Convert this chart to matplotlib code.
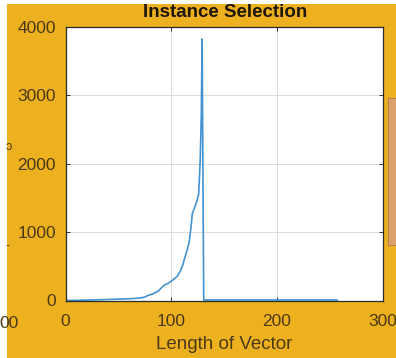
import matplotlib
matplotlib.use("Agg")
import matplotlib.pyplot as plt
from matplotlib.patches import Rectangle

# values
length_vec = [0, 10, 20, 30, 40, 50, 60, 70, 75, 78, 83, 88, 93, 97, 101, 104,
              106, 109, 111, 113, 115, 117, 119, 120, 122, 124, 126, 127.5,
              128.5, 129.3, 130.8, 140, 160, 180, 200, 220, 240, 257]
counts = [0, 3, 6, 10, 15, 20, 25, 35, 50, 73, 98, 140, 220, 250, 293, 330,
          360, 440, 520, 630, 730, 850, 1100, 1270, 1350, 1440, 1550, 2050,
          2700, 3820, 8, 8, 8, 8, 8, 8, 8, 8]
xticks = [0, 100, 200, 300]
yticks = [0, 1000, 2000, 3000, 4000]

bg = '#EDB120'
txt = '#4a3a15'
font = 'Liberation Sans'

fig = plt.figure(figsize=(3.96, 3.58), dpi=100, facecolor='white')

# orange figure background (screenshot is cropped, thin white strips left/top)
fig.patches.append(Rectangle((7 / 396, 0), 1, (358 - 4) / 358, transform=fig.transFigure,
                             facecolor=bg, edgecolor='none', zorder=-10))
# piece of neighbouring legend box at the right edge
fig.patches.append(Rectangle((388 / 396, (358 - 245) / 358), 0.05, 147 / 358,
                             transform=fig.transFigure, facecolor='#DDA26C',
                             edgecolor='#b5824a', linewidth=0.8, zorder=-5))

ax = fig.add_axes([65.5 / 396, (358 - 300.5) / 358, 317 / 396, 273.8 / 358])
ax.set_facecolor('white')
ax.plot(length_vec, counts, color='#4393D0', linewidth=1.2)

ax.set_xlim(0, 300)
ax.set_ylim(0, 4000)
ax.set_xticks(xticks)
ax.set_yticks(yticks)
ax.grid(True, color='#dcdcdc', linewidth=0.7)
ax.set_axisbelow(True)
ax.tick_params(direction='in', length=3, width=0.7, top=True, right=True,
               colors='#333333', labelcolor=txt, labelsize=12.5)
ax.tick_params(axis='x', pad=10)
ax.tick_params(axis='y', pad=7)
for lab in ax.get_xticklabels() + ax.get_yticklabels():
    lab.set_fontfamily(font)
for s in ax.spines.values():
    s.set_color('#2a2a2a')
    s.set_linewidth(0.9)

ax.set_xlabel('Length of Vector', fontsize=13.5, color=txt, family=font, labelpad=5)
fig.text(225 / 396, (358 - 17) / 358, 'Instance Selection', ha='center', va='baseline',
         fontsize=13.5, fontweight='bold', color='#1e1608', family=font)

# fragments of the neighbouring subplot cut by the crop
fig.text(-0.3 / 396, (358 - 323) / 358, '00', ha='left', va='center',
         fontsize=12.5, color=txt, family=font)
fig.text(6 / 396, (358 - 147) / 358, 'ɔ', ha='left', va='center',
         fontsize=9, color=txt, family=font)
fig.text(6 / 396, (358 - 246) / 358, '-', ha='left', va='center',
         fontsize=9, color=txt, family=font)

fig.savefig('out.png', dpi=100, facecolor=fig.get_facecolor())
